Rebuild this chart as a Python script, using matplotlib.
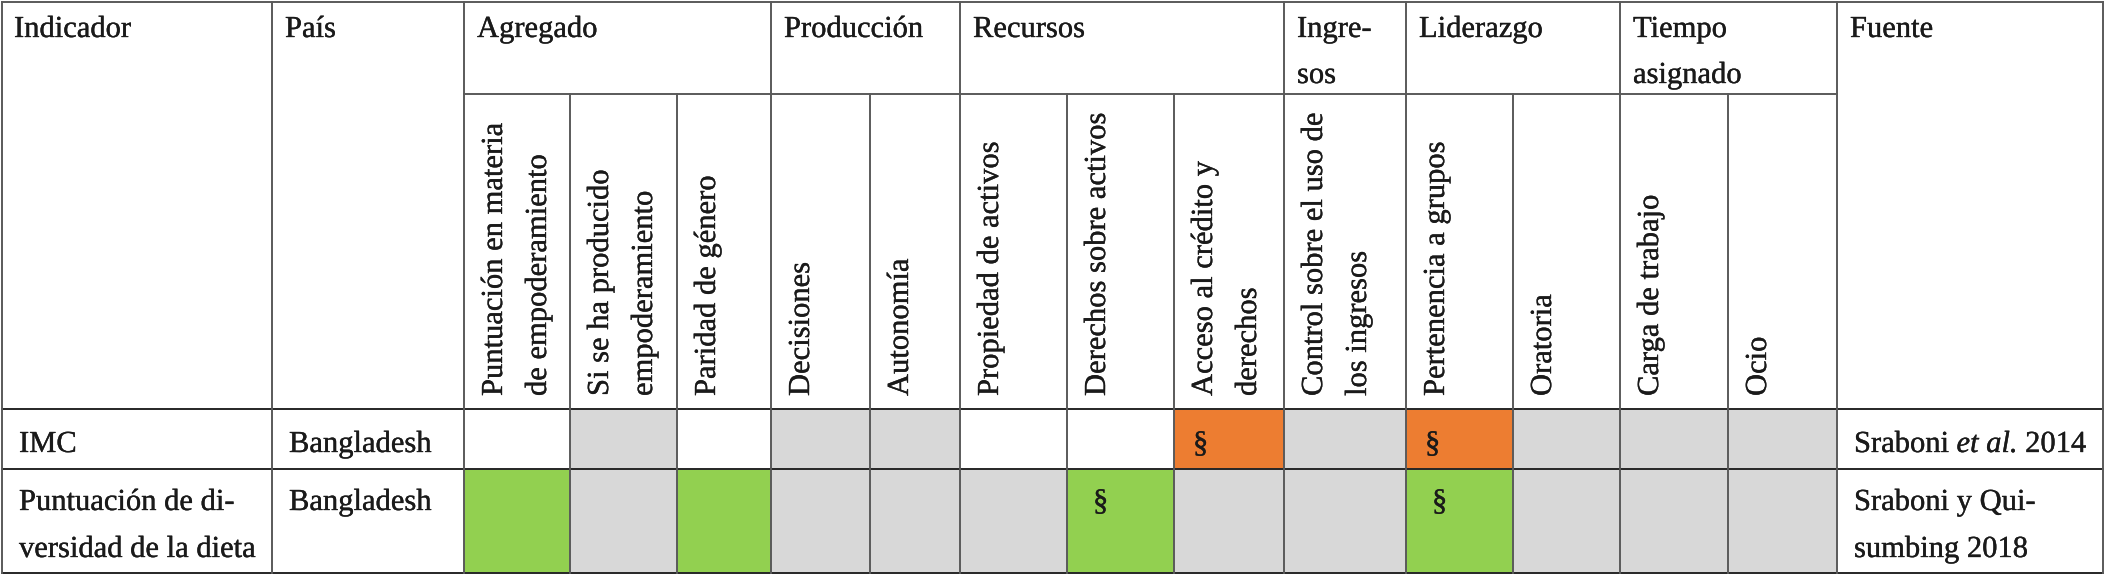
import matplotlib
matplotlib.use('Agg')
import matplotlib.pyplot as plt
import matplotlib.patheffects as pe
from matplotlib.patches import Rectangle

# Table content
groups = ['Agregado', 'Producción', 'Recursos', 'Ingre-\nsos', 'Liderazgo', 'Tiempo\nasignado']
group_sizes = [3, 2, 3, 1, 2, 2]
sub_labels = ['Puntuación en materia\nde empoderamiento',
              'Si se ha producido\nempoderamiento',
              'Paridad de género',
              'Decisiones',
              'Autonomía',
              'Propiedad de activos',
              'Derechos sobre activos',
              'Acceso al crédito y\nderechos',
              'Control sobre el uso de\nlos ingresos',
              'Pertenencia a grupos',
              'Oratoria',
              'Carga de trabajo',
              'Ocio']
indicators = ['IMC', 'Puntuación de di-\nversidad de la dieta']
countries = ['Bangladesh', 'Bangladesh']
sources = [('Sraboni', 'et al.', '2014'), ('Sraboni y Qui-\nsumbing 2018', '', '')]
# w = white, g = grey, o = orange, v = green
row_status = [['w', 'g', 'w', 'g', 'g', 'w', 'w', 'o', 'g', 'o', 'g', 'g', 'g'],
              ['v', 'g', 'v', 'g', 'g', 'g', 'v', 'g', 'g', 'v', 'g', 'g', 'g']]
row_marks = [[7, 9], [6, 9]]

colors = {'w': 'white', 'g': '#D8D8D8', 'o': '#ED7D31', 'v': '#92D050'}

# layout (pixels)
col_edges = [2, 272, 464, 570, 677, 771, 870, 960, 1067, 1174, 1284, 1406, 1513, 1620, 1728, 1837, 2103]
y_top, y_div, y_head, y_row1, y_bot = 2, 94, 409, 469, 573
row_tops = [y_head, y_row1]
row_bots = [y_row1, y_bot]
row_base = [452, 510]
line_gap = 47
fs = 22
tc = '#1a1a1a'
plt.rcParams['font.family'] = ['Liberation Serif', 'DejaVu Serif']
thick = [pe.withStroke(linewidth=0.25, foreground=tc)]

fig = plt.figure(figsize=(21.06, 5.74), dpi=100)
ax = fig.add_axes([0, 0, 1, 1])
ax.set_xlim(0, 2106)
ax.set_ylim(574, 0)
ax.axis('off')

sub_edges = col_edges[2:16]


def put(x, y, s, **kw):
    return ax.text(x, y, s, fontsize=fs, va='baseline', ha='left', color=tc,
                   zorder=3, path_effects=thick, **kw)


def put_lines(x, y, txt, gap=46):
    for n, line in enumerate(txt.split('\n')):
        put(x, y + n * gap, line)


# cell fills
for r in range(2):
    for i, st in enumerate(row_status[r]):
        ax.add_patch(Rectangle((sub_edges[i], row_tops[r]), sub_edges[i + 1] - sub_edges[i],
                               row_bots[r] - row_tops[r], facecolor=colors[st],
                               edgecolor='none', zorder=1))
        if i in row_marks[r]:
            off = 19 if r == 0 else 26
            put(sub_edges[i] + off, row_base[r], '§')

# grid lines
lc = '#5a5a5a'
lw = 1.4
ax.plot([col_edges[0], col_edges[-1]], [y_top, y_top], color=lc, lw=lw, zorder=2)
ax.plot([col_edges[2], col_edges[15]], [y_div, y_div], color=lc, lw=lw, zorder=2)
for y in [y_head, y_row1, y_bot]:
    ax.plot([col_edges[0], col_edges[-1]], [y, y], color='#262626', lw=lw, zorder=2)

group_edges = [0, 1, 2]
k = 2
for g in group_sizes:
    k += g
    group_edges.append(k)
group_edges.append(16)
for j, x in enumerate(col_edges):
    y0 = y_top if j in group_edges else y_div
    ax.plot([x, x], [y0, y_bot], color=lc, lw=lw, zorder=2)

# header texts
put_lines(col_edges[0] + 12, 37, 'Indicador')
put_lines(col_edges[1] + 13, 37, 'País')
put_lines(col_edges[15] + 13, 37, 'Fuente')
k = 2
for g, n in zip(groups, group_sizes):
    put_lines(col_edges[k] + 13, 37, g)
    k += n

# rotated sub labels
for i, lab in enumerate(sub_labels):
    for n, line in enumerate(lab.split('\n')):
        ax.text(sub_edges[i] + 38 + n * 44, 396, line, fontsize=fs, rotation=90,
                rotation_mode='anchor', ha='left', va='baseline', color=tc, zorder=3,
                path_effects=thick)

# body rows
for r in range(2):
    put_lines(col_edges[0] + 17, row_base[r], indicators[r], gap=line_gap)
    put(col_edges[1] + 17, row_base[r], countries[r])

fig.canvas.draw()
renderer = fig.canvas.get_renderer()


def text_width(s, style='normal'):
    t = ax.text(0, 0, s, fontsize=fs, style=style)
    w = t.get_window_extent(renderer).width
    t.remove()
    return w


space_w = text_width('a a') - text_width('aa')
for r in range(2):
    a, b, c = sources[r]
    x = col_edges[15] + 17
    if b == '':
        put_lines(x, row_base[r], a, gap=line_gap)
    else:
        put(x, row_base[r], a)
        x += text_width(a) + space_w
        put(x, row_base[r], b, style='italic')
        x += text_width(b, 'italic') + space_w
        put(x, row_base[r], c)

fig.savefig('out.png', dpi=100)
